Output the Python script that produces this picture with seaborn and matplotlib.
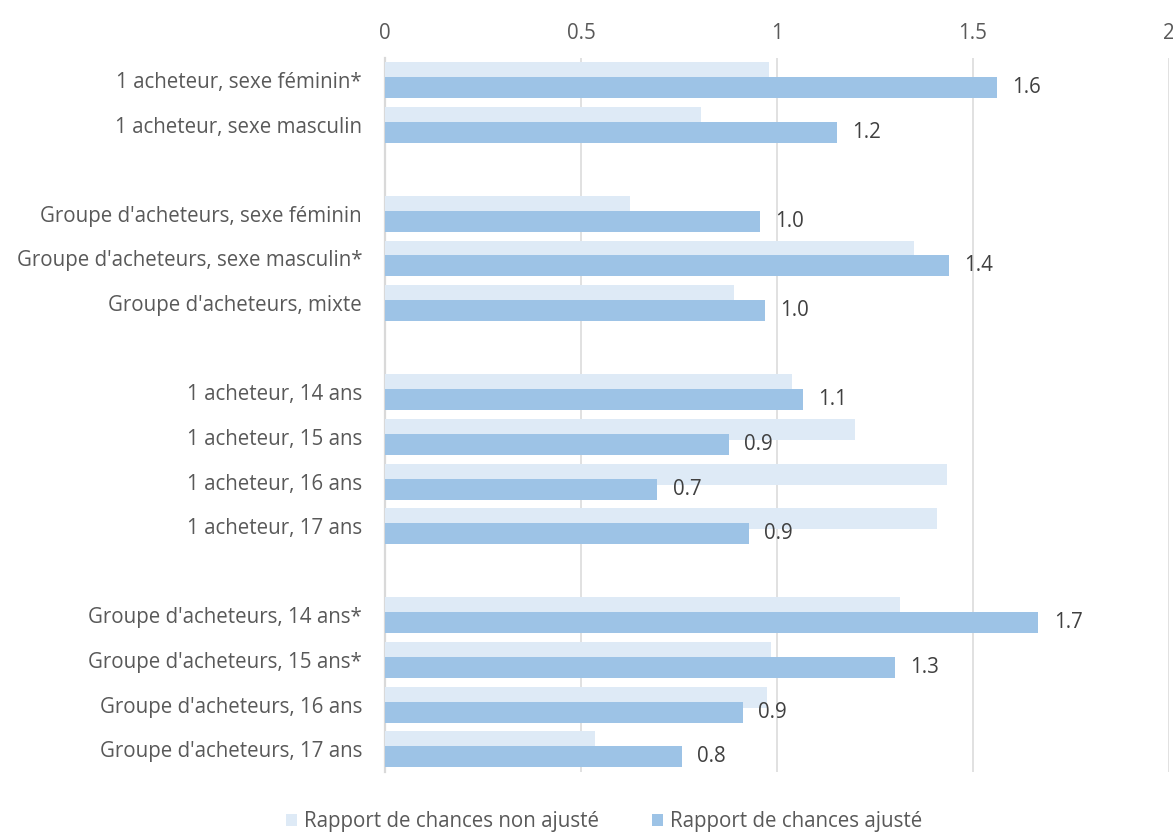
import matplotlib
matplotlib.use("Agg")
import matplotlib.pyplot as plt
import pandas as pd
import seaborn as sns

# Categories (blank strings are spacer rows between groups)
categories = [
    "1 acheteur, sexe féminin*",
    "1 acheteur, sexe masculin",
    " ",
    "Groupe d'acheteurs, sexe féminin",
    "Groupe d'acheteurs, sexe masculin*",
    "Groupe d'acheteurs, mixte",
    "  ",
    "1 acheteur, 14 ans",
    "1 acheteur, 15 ans",
    "1 acheteur, 16 ans",
    "1 acheteur, 17 ans",
    "   ",
    "Groupe d'acheteurs, 14 ans*",
    "Groupe d'acheteurs, 15 ans*",
    "Groupe d'acheteurs, 16 ans",
    "Groupe d'acheteurs, 17 ans",
]

# Odds ratios (None for spacer rows)
non_ajuste = [0.98, 0.805, None, 0.626, 1.349, 0.891, None,
              1.039, 1.200, 1.433, 1.407, None,
              1.315, 0.985, 0.975, 0.536]
ajuste = [1.561, 1.153, None, 0.957, 1.438, 0.970, None,
          1.066, 0.878, 0.695, 0.928, None,
          1.667, 1.300, 0.912, 0.757]

series_names = ["Rapport de chances non ajusté", "Rapport de chances ajusté"]
series_colors = ["#DEEAF6", "#9DC3E6"]
x_ticks = [0, 0.5, 1, 1.5, 2]
x_tick_labels = ["0", "0.5", "1", "1.5", "2"]

rows = []
for cat, v1, v2 in zip(categories, non_ajuste, ajuste):
    if v1 is not None:
        rows.append({"cat": cat, "serie": series_names[0], "val": v1})
    if v2 is not None:
        rows.append({"cat": cat, "serie": series_names[1], "val": v2})
df = pd.DataFrame(rows)

sns.set_style("white")
plt.rcParams["font.family"] = ["Open Sans", "DejaVu Sans"]

text_color = "#595959"
grid_color = "#D9D9D9"
fs = 14.8

fig = plt.figure(figsize=(11.73, 8.35), dpi=100)
ax = fig.add_axes([385 / 1173, 1 - 771.6 / 835, 784 / 1173, (771.6 - 57.7) / 835])

sns.barplot(
    data=df, y="cat", x="val", hue="serie",
    order=categories, hue_order=series_names,
    palette=series_colors, orient="h", width=0.672,
    saturation=1, errorbar=None, ax=ax, linewidth=0,
)

# Thicken bars so the adjusted series slightly overlaps the unadjusted one
bar_h = 0.47
for cont in ax.containers:
    for p in cont:
        cy = p.get_y() + p.get_height() / 2
        p.set_height(bar_h)
        p.set_y(cy - bar_h / 2)

ax.bar_label(ax.containers[1], fmt="{:.1f}", padding=11,
             fontsize=fs, color="#404040")

ax.set_xlim(0, 2)
ax.set_ylim(len(categories) - 0.5, -0.5)
ax.set_xticks(x_ticks)
ax.set_xticklabels(x_tick_labels)
ax.xaxis.tick_top()
ax.tick_params(axis="x", which="both", length=0, pad=10, labelsize=fs,
               labelcolor=text_color)
ax.tick_params(axis="y", length=0, pad=16.5, labelsize=fs,
               labelcolor=text_color)
ax.set_xlabel("")
ax.set_ylabel("")

ax.grid(axis="x", color=grid_color, linewidth=1.1)
ax.grid(axis="y", visible=False)
ax.set_axisbelow(True)
for side in ["top", "right", "bottom"]:
    ax.spines[side].set_visible(False)
ax.spines["left"].set_color(grid_color)
ax.spines["left"].set_linewidth(1.6)
ax.spines["left"].set_zorder(0.5)

sns.move_legend(
    ax, "center", bbox_to_anchor=(604 / 1173, 1 - 822 / 835),
    bbox_transform=fig.transFigure, ncol=2, frameon=False, title=None,
    fontsize=fs, handlelength=0.55, handleheight=0.55,
    handletextpad=0.3, columnspacing=2.6,
)
for t in ax.get_legend().get_texts():
    t.set_color(text_color)

fig.savefig("out.png", dpi=100)
